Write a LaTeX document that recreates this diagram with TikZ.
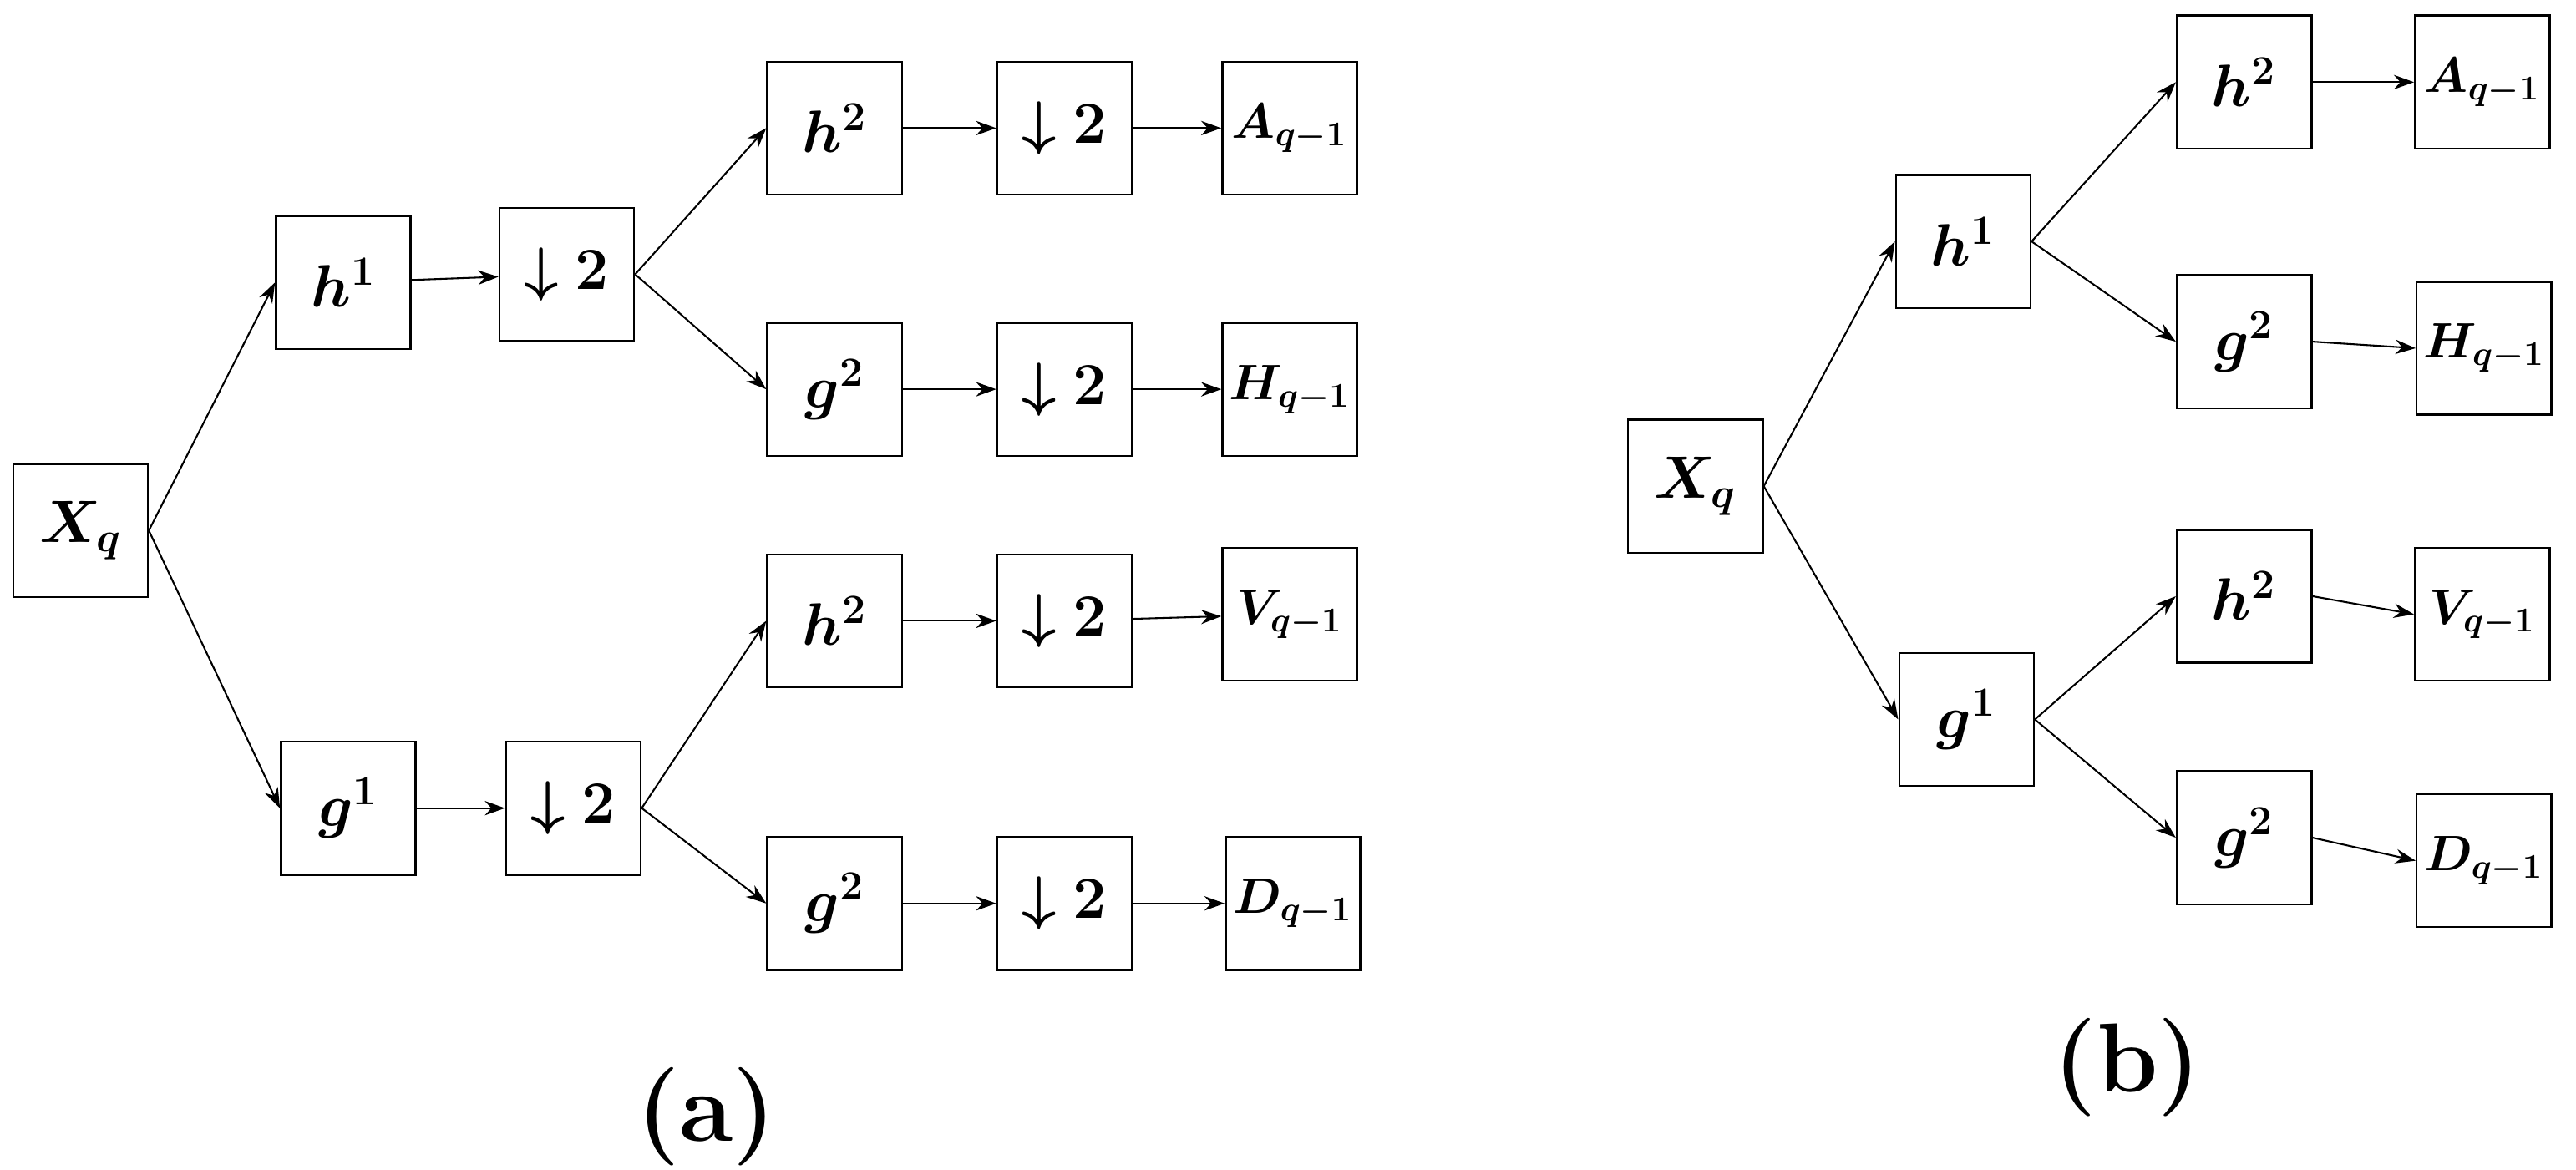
\documentclass[tikz,border=0pt]{standalone}
\usepackage{bm}
\usetikzlibrary{arrows.meta}
\begin{document}
\begin{tikzpicture}[x=0.02cm,y=-0.02cm,
 bx/.style={draw,line width=0.7pt,minimum width=1.64cm,minimum height=1.62cm,inner sep=0pt,font=\fontsize{20}{24}\selectfont},
 ob/.style={bx,font=\fontsize{17}{20}\selectfont},
 ar/.style={-{Stealth[length=7pt,width=5pt]},line width=0.6pt},
 lab/.style={font=\fontsize{34}{40}\selectfont\bfseries}]
\useasboundingbox (0,0) rectangle (1568,712);
% (a)
\node[bx] (X) at (49,323) {$\bm{X_q}$};
\node[bx] (h1) at (209,172) {$\bm{h^1}$};
\node[bx] (d1) at (345,167) {$\bm{\downarrow 2}$};
\node[bx] (g1) at (212,492) {$\bm{g^1}$};
\node[bx] (d2) at (349,492) {$\bm{\downarrow 2}$};
\node[bx] (ha) at (508,78) {$\bm{h^2}$};
\node[bx] (da) at (648,78) {$\bm{\downarrow 2}$};
\node[ob] (A) at (785,78) {$\bm{A_{q-1}}$};
\node[bx] (gb) at (508,237) {$\bm{g^2}$};
\node[bx] (db) at (648,237) {$\bm{\downarrow 2}$};
\node[ob] (H) at (785,237) {$\bm{H_{q-1}}$};
\node[bx] (hc) at (508,378) {$\bm{h^2}$};
\node[bx] (dc) at (648,378) {$\bm{\downarrow 2}$};
\node[ob] (V) at (785,374) {$\bm{V_{q-1}}$};
\node[bx] (gd) at (508,550) {$\bm{g^2}$};
\node[bx] (dd) at (648,550) {$\bm{\downarrow 2}$};
\node[ob] (D) at (787,550) {$\bm{D_{q-1}}$};
\draw[ar] (X.east) -- (h1.west);
\draw[ar] (X.east) -- (g1.west);
\draw[ar] (h1) -- (d1);
\draw[ar] (g1) -- (d2);
\draw[ar] (d1.east) -- (ha.west);
\draw[ar] (d1.east) -- (gb.west);
\draw[ar] (d2.east) -- (hc.west);
\draw[ar] (d2.east) -- (gd.west);
\draw[ar] (ha) -- (da); \draw[ar] (da) -- (A);
\draw[ar] (gb) -- (db); \draw[ar] (db) -- (H);
\draw[ar] (hc) -- (dc); \draw[ar] (dc) -- (V);
\draw[ar] (gd) -- (dd); \draw[ar] (dd) -- (D);
\node[lab] (la) at (430,680) {(a)};
% (b)
\node[bx] (Xb) at (1032,296) {$\bm{X_q}$};
\node[bx] (h1b) at (1195,147) {$\bm{h^1}$};
\node[bx] (g1b) at (1197,438) {$\bm{g^1}$};
\node[bx] (h2b) at (1366,50) {$\bm{h^2}$};
\node[ob] (Ab) at (1511,50) {$\bm{A_{q-1}}$};
\node[bx] (g2b) at (1366,208) {$\bm{g^2}$};
\node[ob] (Hb) at (1512,212) {$\bm{H_{q-1}}$};
\node[bx] (h3b) at (1366,363) {$\bm{h^2}$};
\node[ob] (Vb) at (1511,374) {$\bm{V_{q-1}}$};
\node[bx] (g3b) at (1366,510) {$\bm{g^2}$};
\node[ob] (Db) at (1512,524) {$\bm{D_{q-1}}$};
\draw[ar] (Xb.east) -- (h1b.west);
\draw[ar] (Xb.east) -- (g1b.west);
\draw[ar] (h1b.east) -- (h2b.west);
\draw[ar] (h1b.east) -- (g2b.west);
\draw[ar] (g1b.east) -- (h3b.west);
\draw[ar] (g1b.east) -- (g3b.west);
\draw[ar] (h2b) -- (Ab);
\draw[ar] (g2b.east) -- (Hb.west);
\draw[ar] (h3b.east) -- (Vb.west);
\draw[ar] (g3b.east) -- (Db.west);
\node[lab] (lb) at (1295,650) {(b)};
\end{tikzpicture}
\end{document}
